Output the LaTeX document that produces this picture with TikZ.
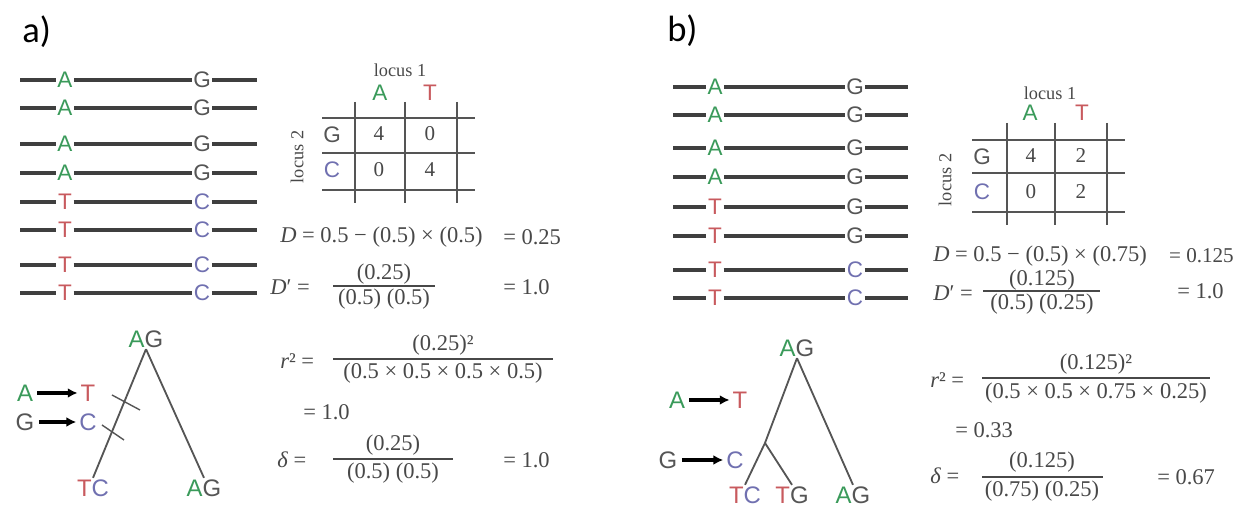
\documentclass[tikz,border=0pt]{standalone}
\usepackage{fontspec}
\setmainfont{Liberation Serif}
\newfontfamily\dnafont{Liberation Sans}
\newfontfamily\panelfont{Carlito}
\usetikzlibrary{arrows.meta,positioning}
\definecolor{dnagreen}{HTML}{3A9A5A}
\definecolor{dnared}{HTML}{C85A5E}
\definecolor{dnablue}{HTML}{7070B0}
\definecolor{dnagray}{HTML}{555555}
\definecolor{strandgray}{HTML}{3F3F3F}
\definecolor{eqgray}{HTML}{484848}

\tikzset{
  strand/.style={line width=2.4pt,draw=strandgray},
  allele/.style={font=\dnafont\fontsize{16}{16}\selectfont,inner sep=1pt,fill=white},
  base/.style={font=\dnafont\fontsize{17}{17}\selectfont,inner sep=1pt},
  head/.style={font=\dnafont\fontsize{16}{16}\selectfont,inner sep=1pt},
  branch/.style={line width=1.3pt,draw=dnagray},
  mutarrow/.style={line width=2.6pt,-{Latex[length=7pt,width=7pt]},shorten <=2pt,shorten >=1pt},
  gridline/.style={line width=1.8pt,draw=dnagray},
  loclabel/.style={font=\fontsize{13}{13}\selectfont,text=eqgray,inner sep=0pt},
  cellnum/.style={font=\fontsize{15}{15}\selectfont,text=eqgray,inner sep=0pt},
  eq/.style={font=\fontsize{16}{16}\selectfont,text=eqgray,inner sep=0pt},
  fracbar/.style={line width=1.1pt,draw=eqgray},
  panel/.style={font=\panelfont\fontsize{26}{26}\selectfont,inner sep=0pt}
}

\begin{document}
\begin{tikzpicture}[x=0.025cm,y=-0.025cm]
  \useasboundingbox (0,0) rectangle (1239,510);

  % panel a
  \node[panel,anchor=base west] (pa) at (22,43) {a)};
  \foreach \y/\p/\pc/\q/\qc [count=\i] in {80/A/dnagreen/G/dnagray,108/A/dnagreen/G/dnagray,
      144/A/dnagreen/G/dnagray,173/A/dnagreen/G/dnagray,202/T/dnared/C/dnablue,
      230/T/dnared/C/dnablue,265/T/dnared/C/dnablue,293/T/dnared/C/dnablue} {
    \coordinate (la\i) at (20,\y);
    \coordinate (ra\i) at (257,\y);
    \node[allele,text=\pc] (pa\i) at (65,\y) {\p};
    \node[allele,text=\qc] (qa\i) at (202,\y) {\q};
    \draw[strand] (la\i) -- (pa\i) -- (qa\i) -- (ra\i);
  }

  % table a
  \node[loclabel] (loc1a) at (400,70) {locus 1};
  \node[loclabel,rotate=90] (loc2a) at (297,157) {locus 2};
  \node[head,text=dnagreen] (cola) at (380,93) {A};
  \node[head,text=dnared] (colt) at (430,93) {T};
  \node[head,text=dnagray] (rowg) at (332,135) {G};
  \node[head,text=dnablue] (rowc) at (332,170) {C};
  \foreach \x in {355,405,457} \draw[gridline] (\x,102) -- (\x,203);
  \foreach \y in {118,153,190} \draw[gridline] (322,\y) -- (475,\y);
  \node[cellnum] (na11) at (379,134) {4};
  \node[cellnum] (na12) at (430,134) {0};
  \node[cellnum] (na21) at (379,170) {0};
  \node[cellnum] (na22) at (430,170) {4};

  % formulas a
  \node[eq,anchor=west] (da) at (280,237) {\textit{D} = 0.5 − (0.5) × (0.5)};
  \node[eq,anchor=west] (dva) at (503,237) {= 0.25};
  \node[eq,anchor=west] (dpa) at (270,287) {\textit{D}′ =};
  \node[eq] (dpna) at (384,274) {(0.25)};
  \draw[fracbar] (333,286) -- (435,286);
  \node[eq] (dpda) at (384,299) {(0.5) (0.5)};
  \node[eq,anchor=west] (dpva) at (503,287) {= 1.0};
  \node[eq,anchor=west] (r2a) at (280,361) {\textit{r}² =};
  \node[eq] (r2na) at (443,345) {(0.25)²};
  \draw[fracbar] (333,359) -- (553,359);
  \node[eq] (r2da) at (443,373) {(0.5 × 0.5 × 0.5 × 0.5)};
  \node[eq,anchor=west] (r2va) at (303,412) {= 1.0};
  \node[eq,anchor=west] (dla) at (277,460) {\textit{δ} =};
  \node[eq] (dlna) at (393,445) {(0.25)};
  \draw[fracbar] (333,459) -- (453,459);
  \node[eq] (dlda) at (393,473) {(0.5) (0.5)};
  \node[eq,anchor=west] (dlva) at (503,460) {= 1.0};

  % tree a
  \node[base] (topa) at (146,339) {\textcolor{dnagreen}{A}\textcolor{dnagray}{G}};
  \node[base] (tca) at (93,488) {\textcolor{dnared}{T}\textcolor{dnablue}{C}};
  \node[base] (aga) at (204,488) {\textcolor{dnagreen}{A}\textcolor{dnagray}{G}};
  \draw[branch] (topa.south) -- (tca.north);
  \draw[branch] (topa.south) -- (aga.north);
  \draw[branch,line width=1pt] (112,395) -- (140,410);
  \draw[branch,line width=1pt] (102,425) -- (124,440);
  \node[base,text=dnagreen] (ma1) at (25,393) {A};
  \node[base,text=dnared] (mt1) at (88,393) {T};
  \node[base,text=dnagray] (mg1) at (25,422) {G};
  \node[base,text=dnablue] (mc1) at (88,422) {C};
  \draw[mutarrow] (ma1) -- (mt1);
  \draw[mutarrow] (mg1) -- (mc1);

  % panel b
  \node[panel,anchor=base west] (pb) at (667,42) {b)};
  \foreach \y/\p/\pc/\q/\qc [count=\i] in {87/A/dnagreen/G/dnagray,115/A/dnagreen/G/dnagray,
      148/A/dnagreen/G/dnagray,177/A/dnagreen/G/dnagray,207/T/dnared/G/dnagray,
      236/T/dnared/G/dnagray,270/T/dnared/C/dnablue,298/T/dnared/C/dnablue} {
    \coordinate (lb\i) at (673,\y);
    \coordinate (rb\i) at (908,\y);
    \node[allele,text=\pc] (pb\i) at (715,\y) {\p};
    \node[allele,text=\qc] (qb\i) at (855,\y) {\q};
    \draw[strand] (lb\i) -- (pb\i) -- (qb\i) -- (rb\i);
  }

  % table b
  \node[loclabel] (loc1b) at (1050,93) {locus 1};
  \node[loclabel,rotate=90] (loc2b) at (945,180) {locus 2};
  \node[head,text=dnagreen] (colab) at (1030,113) {A};
  \node[head,text=dnared] (coltb) at (1082,113) {T};
  \node[head,text=dnagray] (rowgb) at (982,157) {G};
  \node[head,text=dnablue] (rowcb) at (982,192) {C};
  \foreach \x in {1007,1055,1107} \draw[gridline] (\x,123) -- (\x,225);
  \foreach \y in {140,173,212} \draw[gridline] (972,\y) -- (1125,\y);
  \node[cellnum] (nb11) at (1031,156) {4};
  \node[cellnum] (nb12) at (1081,156) {2};
  \node[cellnum] (nb21) at (1031,192) {0};
  \node[cellnum] (nb22) at (1081,192) {2};

  % formulas b
  \node[eq,anchor=west] (db) at (933,256) {\textit{D} = 0.5 − (0.5) × (0.75)};
  \node[eq,font=\fontsize{15}{15}\selectfont,anchor=east] (dvb) at (1234,256) {= 0.125};
  \node[eq,anchor=west] (dpb) at (933,293) {\textit{D}′ =};
  \node[eq] (dpnb) at (1042,280) {(0.125)};
  \draw[fracbar] (983,291) -- (1100,291);
  \node[eq] (dpdb) at (1042,304) {(0.5) (0.25)};
  \node[eq,anchor=west] (dpvb) at (1177,291) {= 1.0};
  \node[eq,anchor=west] (r2b) at (930,380) {\textit{r}² =};
  \node[eq] (r2nb) at (1096,364) {(0.125)²};
  \draw[fracbar] (982,378) -- (1210,378);
  \node[eq] (r2db) at (1096,393) {(0.5 × 0.5 × 0.75 × 0.25)};
  \node[eq,anchor=west] (r2vb) at (955,430) {= 0.33};
  \node[eq,anchor=west] (dlb) at (930,476) {\textit{δ} =};
  \node[eq] (dlnb) at (1042,462) {(0.125)};
  \draw[fracbar] (982,477) -- (1103,477);
  \node[eq] (dldb) at (1042,491) {(0.75) (0.25)};
  \node[eq,anchor=west] (dlvb) at (1157,477) {= 0.67};

  % tree b
  \node[base] (topb) at (797,348) {\textcolor{dnagreen}{A}\textcolor{dnagray}{G}};
  \coordinate (forkb) at (765,443);
  \node[base] (tcb) at (745,495) {\textcolor{dnared}{T}\textcolor{dnablue}{C}};
  \node[base] (tgb) at (792,495) {\textcolor{dnared}{T}\textcolor{dnagray}{G}};
  \node[base] (agb) at (853,495) {\textcolor{dnagreen}{A}\textcolor{dnagray}{G}};
  \draw[branch] (topb.south) -- (forkb) -- (tcb.north);
  \draw[branch] (forkb) -- (tgb.north);
  \draw[branch] (topb.south) -- (agb.north);
  \node[base,text=dnagreen] (ma2) at (677,400) {A};
  \node[base,text=dnared] (mt2) at (740,400) {T};
  \node[base,text=dnagray] (mg2) at (668,460) {G};
  \node[base,text=dnablue] (mc2) at (735,460) {C};
  \draw[mutarrow] (ma2) -- (mt2);
  \draw[mutarrow] (mg2) -- (mc2);
\end{tikzpicture}
\end{document}
